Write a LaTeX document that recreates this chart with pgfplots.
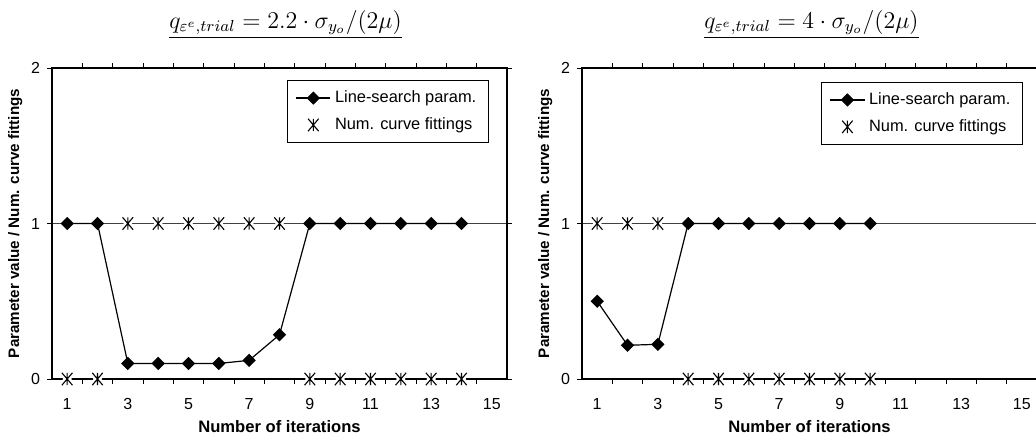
\documentclass[border=0pt]{standalone}
\usepackage[no-math]{fontspec}
\setmainfont{Liberation Sans}
\usepackage{pgfplots}
\pgfplotsset{compat=1.18}

\pgfdeclareplotmark{xstar}{%
 \pgfpathmoveto{\pgfqpoint{-0.85\pgfplotmarksize}{-\pgfplotmarksize}}%
 \pgfpathlineto{\pgfqpoint{0.85\pgfplotmarksize}{\pgfplotmarksize}}%
 \pgfpathmoveto{\pgfqpoint{-0.85\pgfplotmarksize}{\pgfplotmarksize}}%
 \pgfpathlineto{\pgfqpoint{0.85\pgfplotmarksize}{-\pgfplotmarksize}}%
 \pgfpathmoveto{\pgfqpoint{0pt}{-\pgfplotmarksize}}%
 \pgfpathlineto{\pgfqpoint{0pt}{\pgfplotmarksize}}%
 \pgfusepathqstroke}

\pgfplotsset{
 itstyle/.style={
   scale only axis, width=227.5pt, height=155.5pt,
   xmin=0.5, xmax=15.5, ymin=0, ymax=2,
   axis on top=false,
   ytick={0,1,2}, ymajorgrids, grid style={black!75, line width=0.5pt},
   xtick={1.5,2.5,...,14.5}, xticklabels={},
   extra x ticks={1,3,...,15}, extra x tick style={major tick length=0pt, grid=none},
   tick align=outside, major tick length=2.5pt,
   tick style={black, line width=0.5pt},
   axis line style={line width=0.6pt},
   /pgf/number format/assume math mode=true,
   ticklabel style={font=\fontsize{8}{9}\selectfont},
   xticklabel style={yshift=-6pt},
   xlabel={Number of iterations},
   ylabel={Parameter value / Num. curve fittings},
   xlabel style={font=\bfseries\fontsize{8.3}{9}\selectfont, at={(axis description cs:0.5,0)}, anchor=center, yshift=-24pt},
   ylabel style={font=\bfseries\fontsize{7.6}{8}\selectfont, at={(axis description cs:-0.081,0.5)}, anchor=center},
   legend style={draw=black, line width=0.5pt, fill=white, font=\fontsize{8.2}{9.5}\selectfont, anchor=north east, cells={anchor=west}, row sep=2pt, inner xsep=4pt, inner ysep=3pt},
   legend cell align=left,
   title style={font=\fontsize{12}{14}\selectfont, at={(axis description cs:0.5,1)}, anchor=south, yshift=5pt},
 },
 lsp/.style={black, line width=0.6pt, mark=square*, mark size=2.05pt, mark options={rotate=45, solid}},
 halo/.style={forget plot, only marks, mark=xstar, mark size=3.1pt, mark options={white, line width=3pt}},
 stars/.style={only marks, mark=xstar, mark size=3.1pt, black, mark options={black, line width=0.55pt}},
}

\begin{document}
\begin{tikzpicture}
\begin{axis}[itstyle, at={(26pt,30.5pt)}, anchor=south west,
  title={\underline{$q_{\varepsilon^e,trial} = 2.2 \cdot \sigma_{y_o}/(2\mu)$}},
  title style={xshift=3pt},
  legend style={at={(rel axis cs:0.960,0.961)}}]
\addplot[halo] coordinates {(1,0) (2,0) (3,1) (4,1) (5,1) (6,1) (7,1) (8,1) (9,0) (10,0) (11,0) (12,0) (13,0) (14,0)};
\addplot[lsp] coordinates {(1,1) (2,1) (3,0.1) (4,0.1) (5,0.1) (6,0.1) (7,0.12) (8,0.285) (9,1) (10,1) (11,1) (12,1) (13,1) (14,1)};
\addlegendentry{Line-search param.}
\addplot[stars] coordinates {(1,0) (2,0) (3,1) (4,1) (5,1) (6,1) (7,1) (8,1) (9,0) (10,0) (11,0) (12,0) (13,0) (14,0)};
\addlegendentry{Num. curve fittings}
\end{axis}
\begin{axis}[itstyle, at={(291pt,30.5pt)}, anchor=south west,
  title={\underline{$q_{\varepsilon^e,trial} = 4 \cdot \sigma_{y_o}/(2\mu)$}},
  title style={xshift=1pt},
  legend style={at={(rel axis cs:0.969,0.955)}}]
\addplot[halo] coordinates {(1,1) (2,1) (3,1) (4,0) (5,0) (6,0) (7,0) (8,0) (9,0) (10,0)};
\addplot[lsp] coordinates {(1,0.5) (2,0.217) (3,0.223) (4,1) (5,1) (6,1) (7,1) (8,1) (9,1) (10,1)};
\addlegendentry{Line-search param.}
\addplot[stars] coordinates {(1,1) (2,1) (3,1) (4,0) (5,0) (6,0) (7,0) (8,0) (9,0) (10,0)};
\addlegendentry{Num. curve fittings}
\end{axis}
\pgfresetboundingbox
\path[use as bounding box] (0,0) rectangle (518pt,220pt);
\end{tikzpicture}
\end{document}
